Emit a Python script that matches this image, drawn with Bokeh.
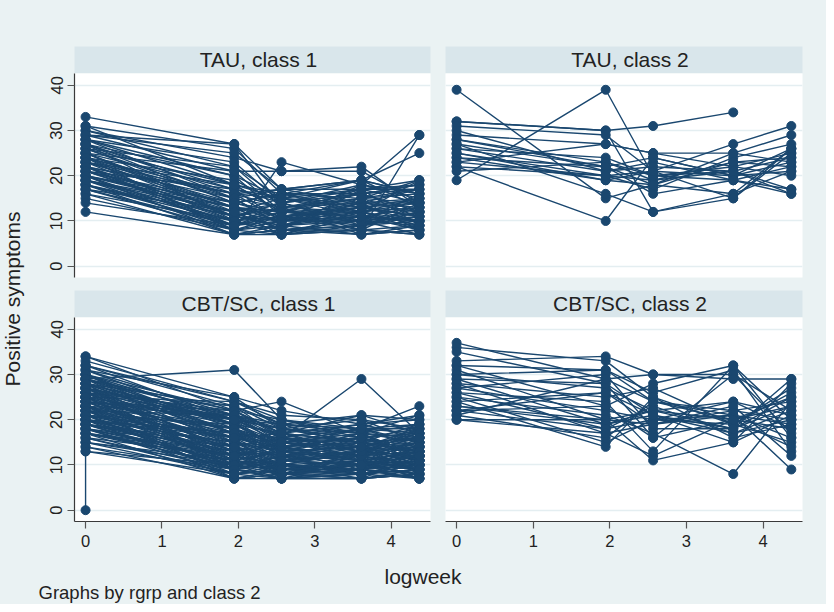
from bokeh.plotting import figure
from bokeh.models import Range1d, LinearAxis, Grid, FixedTicker, Label
from bokeh.layouts import row, column
from bokeh.embed import file_html
from bokeh.resources import INLINE

# ---------------- data ----------------
logweek = [0.0, 1.946, 2.565, 3.611, 4.369]   # the five assessment times (log weeks)
x_ticks = [0, 1, 2, 3, 4]
y_ticks = [0, 10, 20, 30, 40]
panel_titles = ["TAU, class 1", "TAU, class 2", "CBT/SC, class 1", "CBT/SC, class 2"]
x_title = "logweek"
y_title = "Positive symptoms"
note_text = "Graphs by rgrp and class 2"

# one row per participant: score at each of the five logweek times (None = missing)
tau_class1 = [
    [33, 27, 17, 14, 12], [31, 26, 16, 13, 15], [30, 24, 21, 22, 13], [30, 22, 15, 17, 19],
    [29, 27, 13, 12, 10], [29, 21, 21, 21, 14], [28, 18, 12, 15, 11], [28, 23, 14, 18, 29],
    [27, 17, 10, 12, 9], [27, 16, 15, 19, 16], [27, 20, 11, 10, 12], [26, 15, 9, 14, 8],
    [26, 18, 16, 16, 18], [26, 14, 12, 11, 10], [25, 13, 8, 9, 13], [25, 17, 14, 17, 17],
    [25, 12, 10, 13, 11], [24, 16, 13, 8, 29], [24, 11, 9, 10, 7], [24, 15, 17, 19, 25],
    [23, 10, 8, 7, 9], [23, 14, 11, 12, 14], [23, 13, 12, 16, 12], [22, 12, 7, 11, 10],
    [22, 9, 10, 14, 13], [22, 15, 13, 7, 8], [22, 8, 23, 18, 16], [21, 11, 9, 12, 15],
    [21, 14, 16, 15, 19], [21, 10, 7, 8, 7], [20, 9, 11, 13, 11], [20, 13, 12, 10, 9],
    [20, 7, 8, 9, 12], [19, 12, 14, 16, 17], [19, 8, 9, 7, 8], [19, 11, 10, 11, 10],
    [18, 10, 13, 14, 14], [18, 7, 7, 8, 9], [18, 9, 12, 12, 13], [17, 8, 10, 10, 11],
    [17, 12, 8, 17, 18], [16, 7, 9, 11, 8], [16, 10, 11, 13, 12], [15, 8, 7, 9, 10],
    [14, 9, 13, 15, 14], [12, 7, 8, 8, 7], [29, 25, 17, 19, 16], [28, 20, 15, 14, 17],
    [24, 19, 14, 16, 18], [23, 16, 10, 18, 15], [21, 17, 15, 12, 19], [20, 14, 16, 19, 13],
    [26, 22, 13, 15, 16], [25, 21, 12, 13, 11], [19, 13, 11, 14, 15], [27, 10, 7, 12, 9],
    [31, 18, 12, 11, 10], [18, 11, 14, 10, 16], [22, 16, 17, 17, 14], [24, 8, 11, 9, 12],
    [28, 15, 9, 13, 14], [27, 14, 16, 12, 8], [25, 11, 13, 16, 12], [24, 13, 8, 10, 15],
    [23, 18, 15, 13, 10], [22, 11, 14, 9, 11], [21, 13, 10, 15, 17], [20, 12, 15, 11, 13],
    [19, 10, 12, 17, 9], [17, 9, 11, 8, 14],
]

tau_class2 = [
    [39, 15, 18, 23, 22], [19, 39, 20, 22, 25], [32, 30, 31, 34, None], [32, 30, 12, 16, 26],
    [31, 29, 21, 27, 31], [29, 27, 25, 25, 29], [28, 23, 19, 21, 17], [28, 22, 24, 20, 23],
    [27, 16, 12, 15, 25], [26, 24, 20, 21, 16], [26, 21, 23, 19, 22], [25, 20, 17, 24, 27],
    [24, 22, 18, 16, 21], [24, 19, 21, 20, 26], [23, 27, 25, 22, 20], [22, 20, 19, 23, 24],
    [22, 10, 24, 20, 21], [21, 23, 20, 19, 16], [30, 21, 22, 21, 24], [25, 19, 18, 25, 23],
    [27, 22, 16, 19, 17], [23, 20, 21, 15, 26],
]

cbt_class1 = [
    [34, 25, 18, 15, 13], [34, 22, 24, 17, 12], [32, 23, 16, 14, 11], [32, 24, 19, 18, 15],
    [31, 21, 14, 12, 10], [31, 25, 22, 19, 16], [30, 20, 13, 16, 18], [30, 18, 12, 11, 9],
    [29, 31, 20, 16, 17], [29, 19, 15, 13, 14], [29, 22, 17, 21, 20], [28, 17, 11, 10, 8],
    [28, 23, 18, 15, 19], [28, 16, 14, 12, 13], [27, 20, 16, 29, 17], [27, 15, 10, 9, 11],
    [27, 21, 19, 17, 15], [26, 14, 12, 13, 12], [26, 18, 15, 14, 16], [26, 13, 9, 8, 10],
    [26, 22, 17, 19, 21], [25, 16, 13, 11, 9], [25, 12, 8, 10, 12], [25, 19, 14, 15, 14],
    [25, 24, 20, 18, 23], [24, 11, 10, 7, 8], [24, 17, 16, 14, 13], [24, 14, 11, 12, 15],
    [24, 20, 18, 16, 17], [23, 10, 9, 9, 7], [23, 15, 13, 17, 11], [23, 18, 12, 13, 14],
    [23, 13, 7, 8, 9], [22, 21, 15, 12, 18], [22, 9, 8, 10, 10], [22, 16, 14, 16, 12],
    [22, 12, 10, 11, 13], [21, 8, 7, 7, 8], [21, 14, 12, 15, 16], [21, 19, 17, 13, 11],
    [21, 11, 9, 9, 12], [20, 7, 8, 8, 7], [20, 13, 11, 14, 15], [20, 17, 15, 18, 19],
    [20, 10, 12, 10, 9], [19, 9, 7, 11, 10], [19, 15, 13, 12, 14], [19, 12, 10, 9, 11],
    [18, 8, 9, 10, 8], [18, 14, 16, 15, 13], [18, 11, 8, 7, 12], [17, 7, 7, 8, 9],
    [17, 13, 12, 13, 17], [17, 10, 11, 12, 10], [16, 9, 10, 9, 7], [16, 12, 14, 11, 15],
    [15, 8, 9, 10, 11], [15, 11, 8, 13, 12], [14, 7, 8, 7, 9], [13, 10, 7, 9, 8],
    [33, 24, 21, 20, 18], [30, 22, 20, 17, 19], [29, 17, 13, 14, 10], [28, 20, 16, 19, 20],
    [27, 19, 14, 11, 13], [26, 23, 19, 21, 17], [25, 15, 12, 16, 14], [24, 21, 17, 15, 16],
    [23, 16, 15, 18, 18], [22, 18, 13, 14, 17], [21, 16, 11, 10, 14], [20, 15, 14, 16, 13],
    [19, 13, 15, 17, 16], [18, 12, 13, 14, 11], [17, 11, 9, 12, 13], [30, 15, 11, 13, 12],
    [27, 13, 10, 8, 11], [25, 10, 8, 9, 10], [23, 7, 9, 11, 7], [28, 9, 7, 7, 8],
    [26, 20, 18, 17, 21], [24, 22, 16, 13, 15],
    [31, 19, 13, 12, 15], [30, 17, 14, 15, 11], [29, 14, 9, 10, 12], [29, 21, 16, 18, 14],
    [28, 12, 10, 13, 16], [28, 19, 17, 12, 9], [27, 11, 13, 9, 14], [27, 17, 12, 14, 18],
    [26, 16, 8, 11, 7], [26, 10, 11, 15, 13], [25, 20, 15, 13, 16], [25, 9, 12, 8, 10],
    [24, 18, 14, 10, 12], [24, 13, 9, 12, 19], [23, 12, 15, 14, 8], [23, 21, 18, 20, 15],
    [22, 14, 10, 9, 13], [22, 11, 13, 17, 10], [21, 17, 16, 11, 12], [21, 9, 11, 13, 14],
    [20, 12, 9, 10, 16], [20, 16, 17, 15, 11], [19, 10, 14, 18, 17], [19, 14, 8, 9, 7],
    [18, 9, 11, 12, 10], [17, 12, 15, 16, 12], [16, 8, 10, 13, 9], [15, 10, 12, 8, 11],
    [14, 9, 11, 10, 13], [32, 20, 19, 14, 16],
]
# one CBT/SC class 1 participant with two baseline records (0 and 13)
cbt_class1_extra_time = [0, 0, 1, 2, 3, 4]      # indices into logweek
cbt_class1_extra_score = [0, 13, 8, 9, 10, 12]

cbt_class2 = [
    [37, 29, 24, 20, 18], [36, 33, 25, 19, 15], [35, 28, 21, 17, 20], [33, 34, 30, 30, 22],
    [32, 23, 28, 32, 16], [32, 31, 26, 31, 13], [31, 20, 19, 22, 24], [30, 27, 22, 20, 14],
    [30, 31, 24, 21, 19], [29, 19, 21, 18, 25], [29, 28, 16, 30, 17], [28, 25, 27, 19, 26],
    [28, 17, 12, 20, 23], [27, 22, 20, 24, 21], [27, 30, 18, 18, 29], [26, 18, 23, 17, 22],
    [26, 24, 13, 32, 20], [25, 15, 20, 19, 27], [25, 21, 17, 8, 24], [24, 14, 25, 16, 19],
    [24, 26, 19, 21, 9], [23, 20, 11, 15, 21], [23, 19, 22, 24, 18], [22, 18, 20, 21, 16],
    [22, 23, 16, 20, 25], [21, 16, 24, 22, 20], [21, 29, 30, 29, 29], [20, 20, 22, 18, 23],
    [20, 17, 19, 23, 12], [22, 26, 21, 15, 28],
]

# ---------------- style ----------------
NAVY = "#1a476f"
BG = "#eaf2f3"
STRIP = "#d9e6eb"
GRID = "#e4eef1"
TXT = "#222222"
FONT = "Liberation Sans"
X_RANGE = (-0.145, 4.515)
Y_RANGE = (-2.5, 42.6)

FRAME_H = 204
LEFT_B, LEFT_FW, LEFT_R = 36, 356, 7
RIGHT_B, RIGHT_FW, RIGHT_R = 8, 357, 24
TOP_MARGIN = 46
STRIP_H = 27
GAP = 13
BOTTOM_AXIS = 33
YT_W = 38
FOOT_H = 50
BOX_STYLE = {"background-color": BG}


def base_fig(w, h, xr, yr, bl, br, bt, bb):
    f = figure(width=w, height=h, x_range=Range1d(*xr), y_range=Range1d(*yr),
               x_axis_location=None, y_axis_location=None, toolbar_location=None,
               output_backend="svg", min_border_left=bl, min_border_right=br,
               min_border_top=bt, min_border_bottom=bb)
    f.center = []            # drop the default grids
    f.border_fill_color = BG
    f.outline_line_color = None
    f.styles = BOX_STYLE
    return f


def style_axis(ax, standoff):
    ax.axis_line_color = "#3a3a3a"
    ax.axis_line_width = 1.2
    ax.major_tick_out = 7
    ax.major_tick_in = 0
    ax.major_tick_line_color = "#555555"
    ax.major_tick_line_width = 1.2
    ax.minor_tick_line_color = None
    ax.major_label_text_font = FONT
    ax.major_label_text_font_size = "16.5px"
    ax.major_label_text_color = TXT
    ax.major_label_standoff = standoff


def panel(rows, bl, fw, br, bb, left_axis, bottom_axis, extra=None):
    p = base_fig(bl + fw + br, FRAME_H + bb, X_RANGE, Y_RANGE, bl, br, 0, bb)
    p.background_fill_color = "white"
    p.add_layout(Grid(dimension=1, ticker=FixedTicker(ticks=y_ticks),
                      grid_line_color=GRID, grid_line_width=1.6))
    xs, ys, px, py = [], [], [], []
    for r in rows:
        xx = [logweek[i] for i, v in enumerate(r) if v is not None]
        yy = [v for v in r if v is not None]
        xs.append(xx); ys.append(yy)
        px += xx; py += yy
    if extra is not None:
        ex = [logweek[i] for i in extra[0]]
        xs.append(ex); ys.append(list(extra[1]))
        px += ex; py += list(extra[1])
    p.multi_line(xs, ys, line_color=NAVY, line_width=1.4)
    p.scatter(px, py, size=9, fill_color=NAVY, line_color=NAVY)
    if left_axis:
        ax = LinearAxis(ticker=FixedTicker(ticks=y_ticks), major_label_orientation="vertical")
        style_axis(ax, 5)
        p.add_layout(ax, "left")
    if bottom_axis:
        ax = LinearAxis(ticker=FixedTicker(ticks=x_ticks))
        style_axis(ax, 6)
        p.add_layout(ax, "below")
    return p


def strip(text, bl, fw, br, top):
    s = base_fig(bl + fw + br, top + STRIP_H, (0, fw), (0, STRIP_H), bl, br, top, 0)
    s.background_fill_color = STRIP
    s.add_layout(Label(x=fw / 2 + 6, y=14, text=text, text_align="center",
                       text_baseline="middle", text_font=FONT,
                       text_font_size="21px", text_color=TXT))
    return s


left_col = column(
    strip(panel_titles[0], LEFT_B, LEFT_FW, LEFT_R, TOP_MARGIN),
    panel(tau_class1, LEFT_B, LEFT_FW, LEFT_R, GAP, True, False),
    strip(panel_titles[2], LEFT_B, LEFT_FW, LEFT_R, 0),
    panel(cbt_class1, LEFT_B, LEFT_FW, LEFT_R, BOTTOM_AXIS, True, True,
          extra=(cbt_class1_extra_time, cbt_class1_extra_score)),
    styles=BOX_STYLE,
)
right_col = column(
    strip(panel_titles[1], RIGHT_B, RIGHT_FW, RIGHT_R, TOP_MARGIN),
    panel(tau_class2, RIGHT_B, RIGHT_FW, RIGHT_R, GAP, False, False),
    strip(panel_titles[3], RIGHT_B, RIGHT_FW, RIGHT_R, 0),
    panel(cbt_class2, RIGHT_B, RIGHT_FW, RIGHT_R, BOTTOM_AXIS, False, True),
    styles=BOX_STYLE,
)

upper_h = TOP_MARGIN + STRIP_H + FRAME_H + GAP + STRIP_H + FRAME_H + BOTTOM_AXIS
ytitle = base_fig(YT_W, upper_h, (0, YT_W), (0, upper_h), 0, 0, 0, 0)
ytitle.background_fill_color = BG
ytitle.add_layout(Label(x=12.3, y=upper_h - 298.5, text=y_title, angle=1.5707963,
                        text_align="center", text_baseline="middle",
                        text_font=FONT, text_font_size="21px", text_color=TXT))

total_w = YT_W + LEFT_B + LEFT_FW + LEFT_R + RIGHT_B + RIGHT_FW + RIGHT_R
footer = base_fig(total_w, FOOT_H, (0, total_w), (0, FOOT_H), 0, 0, 0, 0)
footer.background_fill_color = BG
footer.add_layout(Label(x=422.5, y=28.3, text=x_title, text_align="center",
                        text_baseline="middle", text_font=FONT,
                        text_font_size="21px", text_color=TXT))
footer.add_layout(Label(x=38, y=12.4, text=note_text, text_align="left",
                        text_baseline="middle", text_font=FONT,
                        text_font_size="18.5px", text_color=TXT))

layout = column(row(ytitle, left_col, right_col, styles=BOX_STYLE), footer, styles=BOX_STYLE)

open("out.html", "w").write(file_html(layout, INLINE))
